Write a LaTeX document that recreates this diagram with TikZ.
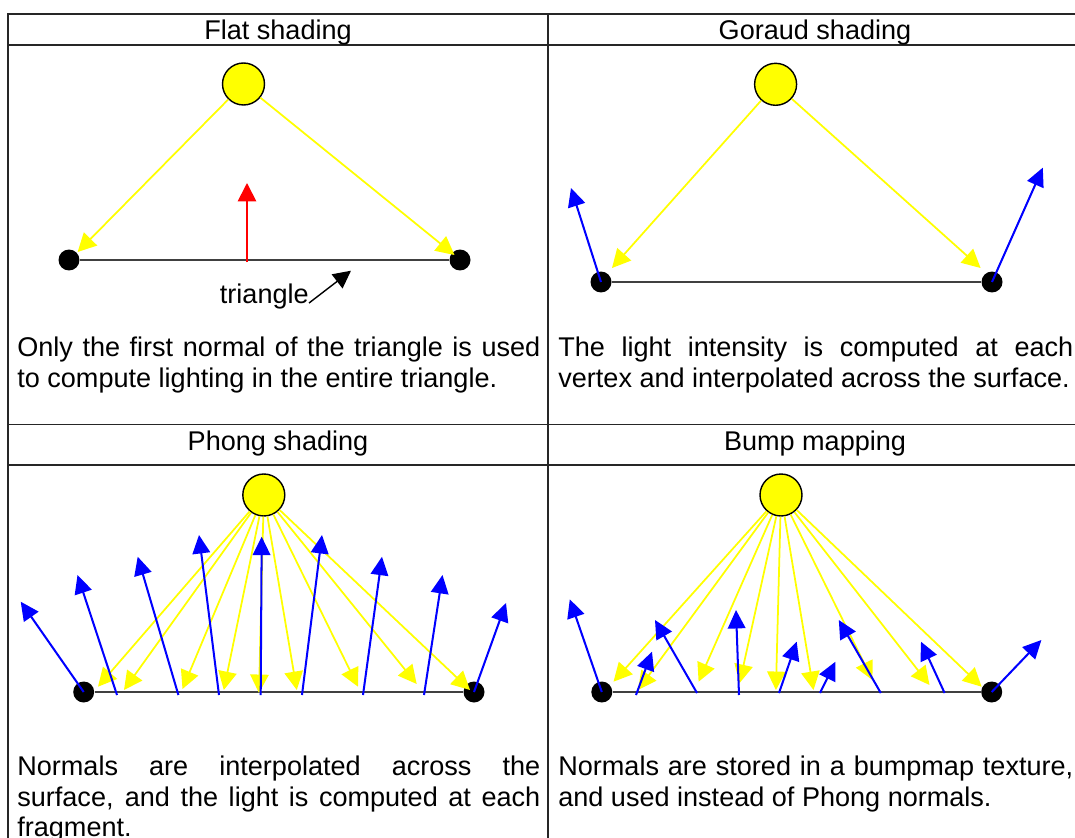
\documentclass[tikz,border=0pt]{standalone}
\usepackage{fontspec}
\setmainfont{Liberation Sans}
\usetikzlibrary{arrows.meta}
\definecolor{lightyellow}{HTML}{FFFF00}
\definecolor{normalblue}{HTML}{0000FF}
\definecolor{flatred}{HTML}{FF0000}
\definecolor{edgegray}{HTML}{404040}
\tolerance=10000
\hbadness=10000

\tikzset{
  sun/.style={circle, draw=black, line width=0.8pt, fill=lightyellow, minimum size=0.84cm, inner sep=0pt},
  vertex/.style={circle, fill=black, minimum size=0.42cm, inner sep=0pt},
  edge/.style={edgegray, line width=1.1pt},
  ray/.style={lightyellow, line width=1pt, -{Triangle[length=10.5pt,width=10.5pt]}},
  normal/.style={normalblue, line width=1.15pt, -{Triangle[length=10.5pt,width=10pt]}},
  flatnormal/.style={flatred, line width=1pt, -{Triangle[length=10.5pt,width=10.5pt]}},
  pointer/.style={black, line width=0.8pt, -{Triangle[length=10pt,width=10pt]}},
  heading/.style={anchor=base, inner sep=0pt},
  captext/.style={anchor=north west, inner sep=0pt, align=justify},
  grid/.style={black!85, line width=0.9pt}
}

\begin{document}
\begin{tikzpicture}[x=0.02cm, y=-0.02cm, font=\fontsize{15.4}{17.3}\selectfont]
\useasboundingbox (0,0) rectangle (1075,838);
% Table
\draw[grid] (8,838) -- (8,14) -- (1075,14);
\draw[grid] (8,45) -- (1075,45);
\draw[grid] (8,424.5) -- (1075,424.5);
\draw[grid] (8,465) -- (1075,465);
\draw[grid] (548,14) -- (548,838);
\node[heading] (ttlA) at (278,39.5) {Flat shading};
\node[heading] (ttlB) at (815,39.5) {Goraud shading};
\node[heading] (ttlC) at (278,450.5) {Phong shading};
\node[heading] (ttlD) at (815,450.5) {Bump mapping};

% Flat shading
\node[sun] (sunA) at (243.5,84) {};
\node[vertex] (vA1) at (69,260) {};
\node[vertex] (vA2) at (460,260) {};
\draw[edge] (vA1) -- (vA2);
\coordinate (hitA1) at (77.6,252);
\coordinate (hitA2) at (454.5,255);
\draw[ray] (sunA) -- (hitA1);
\draw[ray] (sunA) -- (hitA2);
\coordinate (nA0) at (247,262);
\coordinate (nA1) at (247,183);
\draw[flatnormal] (nA0) -- (nA1);
\node[anchor=base west, inner sep=0pt] (triLbl) at (219.6,303) {triangle};
\coordinate (triTip) at (351,270.7);
\draw[pointer] (triLbl.base east) -- (triTip);
\node[captext, text width=10.46cm] (capA) at (17,337)
  {Only the first normal of the triangle is used\linebreak to compute lighting in the entire triangle.};

% Goraud shading
\node[sun] (sunB) at (775.6,84.3) {};
\node[vertex] (vB1) at (601,282) {};
\node[vertex] (vB2) at (992,282) {};
\draw[edge] (vB1) -- (vB2);
\coordinate (hitB1) at (612,268);
\coordinate (hitB2) at (980.6,268);
\draw[ray] (sunB) -- (hitB1);
\draw[ray] (sunB) -- (hitB2);
\coordinate (tipB1) at (571,188);
\coordinate (tipB2) at (1042.8,167.7);
\draw[normal] (vB1.center) -- (tipB1);
\draw[normal] (vB2.center) -- (tipB2);
\node[captext, text width=10.3cm] (capB) at (558,337)
  {The light intensity is computed at each\linebreak vertex and interpolated across the surface.};

% Phong shading
\node[sun] (sunC) at (263.8,495) {};
\node[vertex] (vC1) at (83.7,692) {};
\node[vertex] (vC2) at (474,692) {};
\draw[edge] (vC1) -- (vC2);
\foreach \x/\y [count=\i] in {98/686.7, 124/690, 182.5/689, 223.8/690, 259/693, 296.8/690, 358/686.7, 416.7/684, 470/690}
  {\coordinate (hitC\i) at (\x,\y); \draw[ray] (sunC) -- (hitC\i);}
\coordinate (tipC0) at (20.7,601.7);
\draw[normal] (vC1.center) -- (tipC0);
\foreach \bx/\tx/\ty [count=\i] in {117/77.5/575, 178.4/137.7/556.7, 219/199/535, 260.7/261.7/536.7, 302/322/535, 363/382/556.7, 424/442.5/575}
  {\coordinate (baseC\i) at (\bx,695); \coordinate (tipC\i) at (\tx,\ty); \draw[normal] (baseC\i) -- (tipC\i);}
\coordinate (tipC8) at (506,603);
\draw[normal] (vC2.center) -- (tipC8);
\node[captext, text width=10.46cm] (capC) at (17,756)
  {Normals are interpolated across the\linebreak surface, and the light is computed at each\linebreak fragment.};

% Bump mapping
\node[sun] (sunD) at (781,495) {};
\node[vertex] (vD1) at (601.8,692) {};
\node[vertex] (vD2) at (991.7,692) {};
\draw[edge] (vD1) -- (vD2);
\foreach \x/\y [count=\i] in {613.5/681.7, 638/690, 698.6/681.7, 739.6/683, 775.9/690, 813.5/690, 872.4/680, 929.5/685, 981.6/686.7}
  {\coordinate (hitD\i) at (\x,\y); \draw[ray] (sunD) -- (hitD\i);}
\coordinate (tipD0) at (569.8,599.3);
\draw[normal] (vD1.center) -- (tipD0);
\foreach \bx/\by/\tx/\ty [count=\i] in {636/695/652/651.7, 697/693/655/620, 739/695/736/610, 779/693/796.7/641.7, 820/693/835.4/661.7, 880.8/693/838.8/620, 944.6/693/921/641.7}
  {\coordinate (baseD\i) at (\bx,\by); \coordinate (tipD\i) at (\tx,\ty); \draw[normal] (baseD\i) -- (tipD\i);}
\coordinate (tipD8) at (1041.4,640);
\draw[normal] (vD2.center) -- (tipD8);
\node[captext, text width=10.3cm] (capD) at (558,756)
  {Normals are stored in a bumpmap texture,\linebreak and used instead of Phong normals.};
\end{tikzpicture}
\end{document}
